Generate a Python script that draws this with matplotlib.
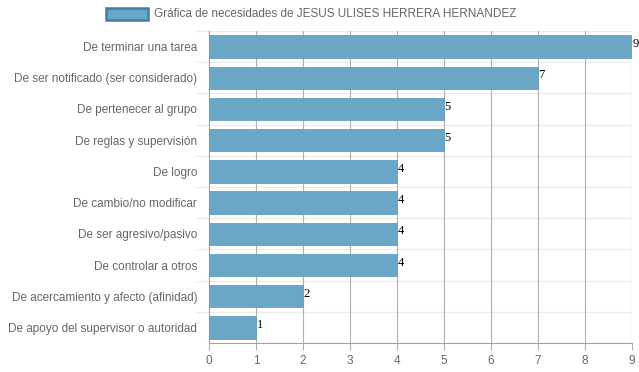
import matplotlib.pyplot as plt
from matplotlib.patches import Rectangle

categorias = [
    "De terminar una tarea",
    "De ser notificado (ser considerado)",
    "De pertenecer al grupo",
    "De reglas y supervisión",
    "De logro",
    "De cambio/no modificar",
    "De ser agresivo/pasivo",
    "De controlar a otros",
    "De acercamiento y afecto (afinidad)",
    "De apoyo del supervisor o autoridad",
]
valores = [9, 7, 5, 5, 4, 4, 4, 4, 2, 1]
titulo = "Gráfica de necesidades de JESUS ULISES HERRERA HERNANDEZ"

plt.rcParams['font.family'] = ['Liberation Sans', 'DejaVu Sans']

fig = plt.figure(figsize=(6.39, 3.72), dpi=100)
W, H = 639, 372
ax = fig.add_axes([209 / W, 1 - 343 / H, (632 - 209) / W, (343 - 31) / H])

pos = list(range(len(categorias)))
ax.barh(pos, valores, height=0.72, color='#6aa6c6', edgecolor='#64a0c0',
        linewidth=0.6, zorder=3)

for y, v in zip(pos, valores):
    ax.text(v + 0.01, y - 0.08, str(v), family='Liberation Serif', fontsize=9,
            color='black', va='center', ha='left', zorder=4)

ax.set_xlim(0, 9)
ax.set_ylim(len(categorias) - 0.5, -0.5)
ax.set_xticks(range(10))
ax.set_yticks(pos)
ax.set_yticklabels(categorias)

# lineas de grilla
for x in range(1, 10):
    ax.axvline(x, color='#b0b0b0', linewidth=0.8, zorder=1)
for i in range(len(categorias)):
    ax.axhline(i - 0.5, color='#ececec', linewidth=1.0, zorder=0)
    ax.plot([-0.28, 0], [i - 0.5, i - 0.5], color='#ececec', linewidth=1.0,
            clip_on=False)

for s in ['top', 'right']:
    ax.spines[s].set_visible(False)
ax.spines['left'].set_color('#a0a0a0')
ax.spines['bottom'].set_color('#a0a0a0')
ax.spines['left'].set_linewidth(0.8)
ax.spines['bottom'].set_linewidth(0.8)

ax.tick_params(axis='y', length=0, pad=8.5, labelsize=8.5, labelcolor='#666666')
ax.tick_params(axis='x', length=5, width=0.8, color='#b0b0b0', pad=4,
               labelsize=8.5, labelcolor='#666666')

# leyenda
fig.patches.append(Rectangle((106 / W, 1 - 20 / H), 42 / W, 12 / H,
                             transform=fig.transFigure, facecolor='#6aa6c6',
                             edgecolor='#3d80a8', linewidth=1.8))
fig.text(154 / W, 1 - 14 / H, titulo, fontsize=8.5, color='#666666',
         va='center', ha='left')

fig.savefig('out.png', dpi=100)
